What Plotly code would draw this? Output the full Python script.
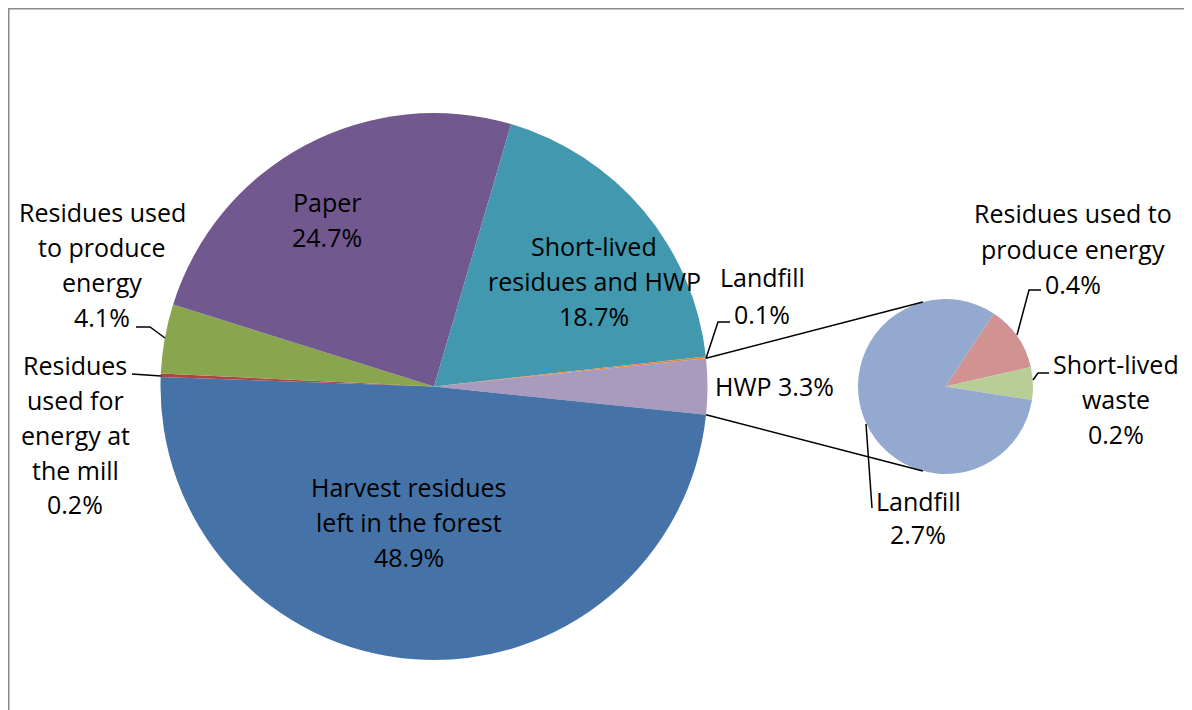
import math
import plotly.graph_objects as go

# ---------------- data ----------------
sub_labels = ["Residues used to produce energy", "Short-lived waste", "Landfill"]
sub_values = [0.4, 0.2, 2.7]
sub_colors = ["#D19392", "#B9CD96", "#93A9CF"]

hwp_value = round(sum(sub_values), 1)  # 3.3
main_labels = ["HWP", "Harvest residues left in the forest",
               "Residues used for energy at the mill",
               "Residues used to produce energy", "Paper",
               "Short-lived residues and HWP", "Landfill"]
main_values = [hwp_value, 48.9, 0.2, 4.1, 24.7, 18.7, 0.1]
main_colors = ["#A99BBD", "#4573A7", "#AA4643", "#89A54E",
               "#71588F", "#4198AF", "#DB843D"]

# ---------------- layout geometry (screen pixels) ----------------
W, H = 1192, 710
OFF = 8  # page body margin of the rendered html
MAIN_C, MAIN_R = (434.0, 386.5), 273.5
SUB_C, SUB_R = (945.5, 386.5), 87.5
SUB_ROT = 33.5
CONNECT_OFF = 15.0  # degrees off vertical where connectors meet the small pie

FONT = "Open Sans, Calibri, sans-serif"
FS = 25
LINE = 35


def px(x):
    return (x - OFF) / W


def py(y):
    return 1 - (y - OFF) / H


def domain(c, r):
    return dict(x=[px(c[0] - r), px(c[0] + r)], y=[py(c[1] + r), py(c[1] - r)])


def pt(c, r, ang):
    a = math.radians(ang)
    return c[0] + r * math.sin(a), c[1] - r * math.cos(a)


total = sum(main_values)
hwp_ang = 360 * hwp_value / total
main_rot = 90 - hwp_ang / 2

fig = go.Figure()
fig.add_trace(go.Pie(
    labels=main_labels, values=main_values, sort=False, direction="clockwise",
    rotation=main_rot, marker=dict(colors=main_colors, line=dict(width=0)),
    textinfo="none", hoverinfo="label+percent", domain=domain(MAIN_C, MAIN_R),
    showlegend=False, name="main"))
fig.add_trace(go.Pie(
    labels=sub_labels, values=sub_values, sort=False, direction="clockwise",
    rotation=SUB_ROT, marker=dict(colors=sub_colors, line=dict(width=0)),
    textinfo="none", hoverinfo="label+value", domain=domain(SUB_C, SUB_R),
    showlegend=False, name="sub"))

shapes = []


def line_px(pts, color="black", width=1.5):
    d = "M " + " L ".join(f"{px(x)},{py(y)}" for x, y in pts)
    shapes.append(dict(type="path", path=d, xref="paper", yref="paper",
                       line=dict(color=color, width=width)))


# connectors between the HWP slice and the secondary pie
top_main = pt(MAIN_C, MAIN_R, main_rot)
bot_main = pt(MAIN_C, MAIN_R, main_rot + hwp_ang)
top_sub = pt(SUB_C, SUB_R, 360 - CONNECT_OFF)
bot_sub = pt(SUB_C, SUB_R, 180 + CONNECT_OFF)
line_px([top_main, top_sub])
line_px([bot_main, bot_sub])

# leader lines
line_px([top_main, (718, 322), (730, 322)])
line_px([(165, 338), (150, 327), (136, 327)])
line_px([(161, 376), (132, 374)])
line_px([(1017, 335), (1029, 290), (1041, 290)])
line_px([(1033, 380), (1038, 373), (1049, 373)])
line_px([(866, 424), (872, 508)])

# chart border (left and top edges visible)
line_px([(8.75, 720), (8.75, 8.75), (1210, 8.75)], color="#8A8A8A", width=1.5)

annotations = []


def label(lines, x, y0, step=LINE):
    for i, t in enumerate(lines):
        annotations.append(dict(text=t, x=px(x), y=py(y0 + i * step),
                                xref="paper", yref="paper", showarrow=False,
                                xanchor="center", yanchor="middle",
                                font=dict(family=FONT, size=FS, color="black")))


label(["Paper", "24.7%"], 327, 202)
label(["Short-lived", "residues and HWP", "18.7%"], 594, 246)
label(["Harvest residues", "left in the forest", "48.9%"], 408.5, 487)
label(["Residues used", "to produce", "energy", "4.1%"], 102, 212)
label(["Residues", "used for", "energy at", "the mill", "0.2%"], 75, 364.5)
label(["Landfill", "0.1%"], 762, 277, 37)
label(["HWP 3.3%"], 774, 386)
label(["Residues used to", "produce energy", "0.4%"], 1073, 213.5)
label(["Short-lived", "waste", "0.2%"], 1116, 364)
label(["Landfill", "2.7%"], 918, 501, 33)

fig.update_layout(
    width=W, height=H, margin=dict(l=0, r=0, t=0, b=0, pad=0),
    paper_bgcolor="white", plot_bgcolor="white",
    shapes=shapes, annotations=annotations,
)

fig.write_html("out.html")
